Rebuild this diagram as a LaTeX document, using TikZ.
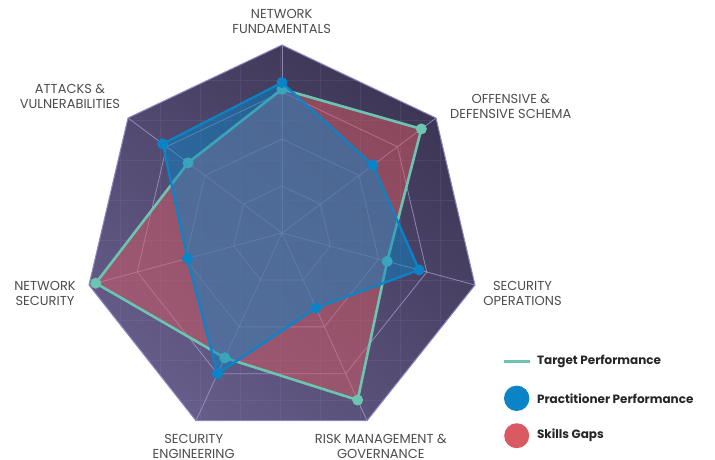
\documentclass[tikz,border=0pt]{standalone}
\usepackage{fontspec}
\setmainfont{Poppins}
\usetikzlibrary{calc}
\definecolor{chartdark}{HTML}{3C3553}
\definecolor{chartlight}{HTML}{655C89}
\definecolor{webline}{HTML}{A69ED2}
\definecolor{rimline}{HTML}{8F87C2}
\definecolor{targetteal}{HTML}{6CC5B1}
\definecolor{practblue}{HTML}{0A84C6}
\definecolor{gapred}{HTML}{D95A63}
\definecolor{labelgray}{HTML}{4D4D4D}

\begin{document}
\begin{tikzpicture}[x=1pt, y=-1pt,
		web/.style = {webline, line width=0.8pt, opacity=0.75},
		axislabel/.style = {anchor=base, text=labelgray, align=center, font=\fontsize{13}{15}\selectfont},
		keytext/.style = {anchor=west, text=black!85, font=\bfseries\fontsize{12}{14}\selectfont},
		tdot/.style = {circle, fill=targetteal, inner sep=0pt, minimum size=11pt},
		pdot/.style = {circle, fill=practblue, inner sep=0pt, minimum size=11pt},
	]
		\useasboundingbox (0,0) rectangle (715,459);
		% 中心・頂点
		\coordinate (c) at (282,233);
		\coordinate (v0) at (282,45);
		\coordinate (v1) at (436,118);
		\coordinate (v2) at (475,285);
		\coordinate (v3) at (367,420.7);
		\coordinate (v4) at (196,420.7);
		\coordinate (v5) at (89,285);
		\coordinate (v6) at (128,118);
		% 背景
		\shade [top color=chartdark, bottom color=chartlight, shading angle=-40]
		(v0) -- (v1) -- (v2) -- (v3) -- (v4) -- (v5) -- (v6) -- cycle
		;
		\begin{scope}
			\clip (v0) -- (v1) -- (v2) -- (v3) -- (v4) -- (v5) -- (v6) -- cycle;
			\draw [webline, opacity=0.12, step=40pt] (0,0) grid (715,459);
		\end{scope}
		% 目盛り
		\foreach \f in {0.25,0.5,0.75}
			\draw [web] ($(c)!\f!(v0)$) -- ($(c)!\f!(v1)$) -- ($(c)!\f!(v2)$) -- ($(c)!\f!(v3)$)
			-- ($(c)!\f!(v4)$) -- ($(c)!\f!(v5)$) -- ($(c)!\f!(v6)$) -- cycle;
		\foreach \k in {0,...,6}
			\draw [web] (c) -- (v\k);
		\draw [rimline, line width=1pt]
		(v0) -- (v1) -- (v2) -- (v3) -- (v4) -- (v5) -- (v6) -- cycle
		;
		% 目標値
		\coordinate (t0) at ($(c)!0.765!(v0)$);
		\coordinate (t1) at ($(c)!0.905!(v1)$);
		\coordinate (t2) at ($(c)!0.545!(v2)$);
		\coordinate (t3) at ($(c)!0.89!(v3)$);
		\coordinate (t4) at ($(c)!0.665!(v4)$);
		\coordinate (t5) at ($(c)!0.965!(v5)$);
		\coordinate (t6) at ($(c)!0.61!(v6)$);
		\fill [gapred, fill opacity=0.5]
		(t0) -- (t1) -- (t2) -- (t3) -- (t4) -- (t5) -- (t6) -- cycle
		;
		\draw [targetteal, line width=2.6pt, line join=round]
		(t0) -- (t1) -- (t2) -- (t3) -- (t4) -- (t5) -- (t6) -- cycle
		;
		\foreach \k in {0,...,6}
			\node [tdot] (td\k) at (t\k) {};
		% 実績値
		\coordinate (p0) at ($(c)!0.80!(v0)$);
		\coordinate (p1) at ($(c)!0.59!(v1)$);
		\coordinate (p2) at ($(c)!0.71!(v2)$);
		\coordinate (p3) at ($(c)!0.40!(v3)$);
		\coordinate (p4) at ($(c)!0.75!(v4)$);
		\coordinate (p5) at ($(c)!0.49!(v5)$);
		\coordinate (p6) at ($(c)!0.775!(v6)$);
		\fill [practblue, fill opacity=0.5]
		(p0) -- (p1) -- (p2) -- (p3) -- (p4) -- (p5) -- (p6) -- cycle
		;
		\draw [practblue, line width=2.2pt, line join=round]
		(p0) -- (p1) -- (p2) -- (p3) -- (p4) -- (p5) -- (p6) -- cycle
		;
		\foreach \k in {0,...,6}
			\node [pdot] (pd\k) at (p\k) {};
		% 軸ラベル
		\node [axislabel] (lblNF) at (281.7,33.8) {NETWORK\\FUNDAMENTALS};
		\node [axislabel] (lblODS) at (510.8,118.2) {OFFENSIVE \&\\DEFENSIVE SCHEMA};
		\node [axislabel] (lblSO) at (522.5,305.2) {SECURITY\\OPERATIONS};
		\node [axislabel] (lblRMG) at (380.8,458) {RISK MANAGEMENT \&\\GOVERNANCE};
		\node [axislabel] (lblSE) at (193.7,458) {SECURITY\\ENGINEERING};
		\node [axislabel] (lblNS) at (45,305.2) {NETWORK\\SECURITY};
		\node [axislabel] (lblAV) at (70,108.8) {ATTACKS \&\\VULNERABILITIES};
		% 凡例
		\coordinate (keyA) at (504,361);
		\coordinate (keyB) at (529.5,361);
		\draw [targetteal, line width=3pt] (keyA) -- (keyB);
		\node [keytext] (keyTxtT) at (533.5,361) {Target Performance};
		\node [circle, fill=practblue, inner sep=0pt, minimum size=25.4pt] (keyP) at (516.7,398.3) {};
		\node [keytext] (keyTxtP) at (533.5,398.3) {Practitioner Performance};
		\node [circle, fill=gapred, inner sep=0pt, minimum size=25pt] (keyG) at (516.7,435.7) {};
		\node [keytext] (keyTxtG) at (533.5,435.7) {Skills Gaps};
	\end{tikzpicture}
\end{document}
